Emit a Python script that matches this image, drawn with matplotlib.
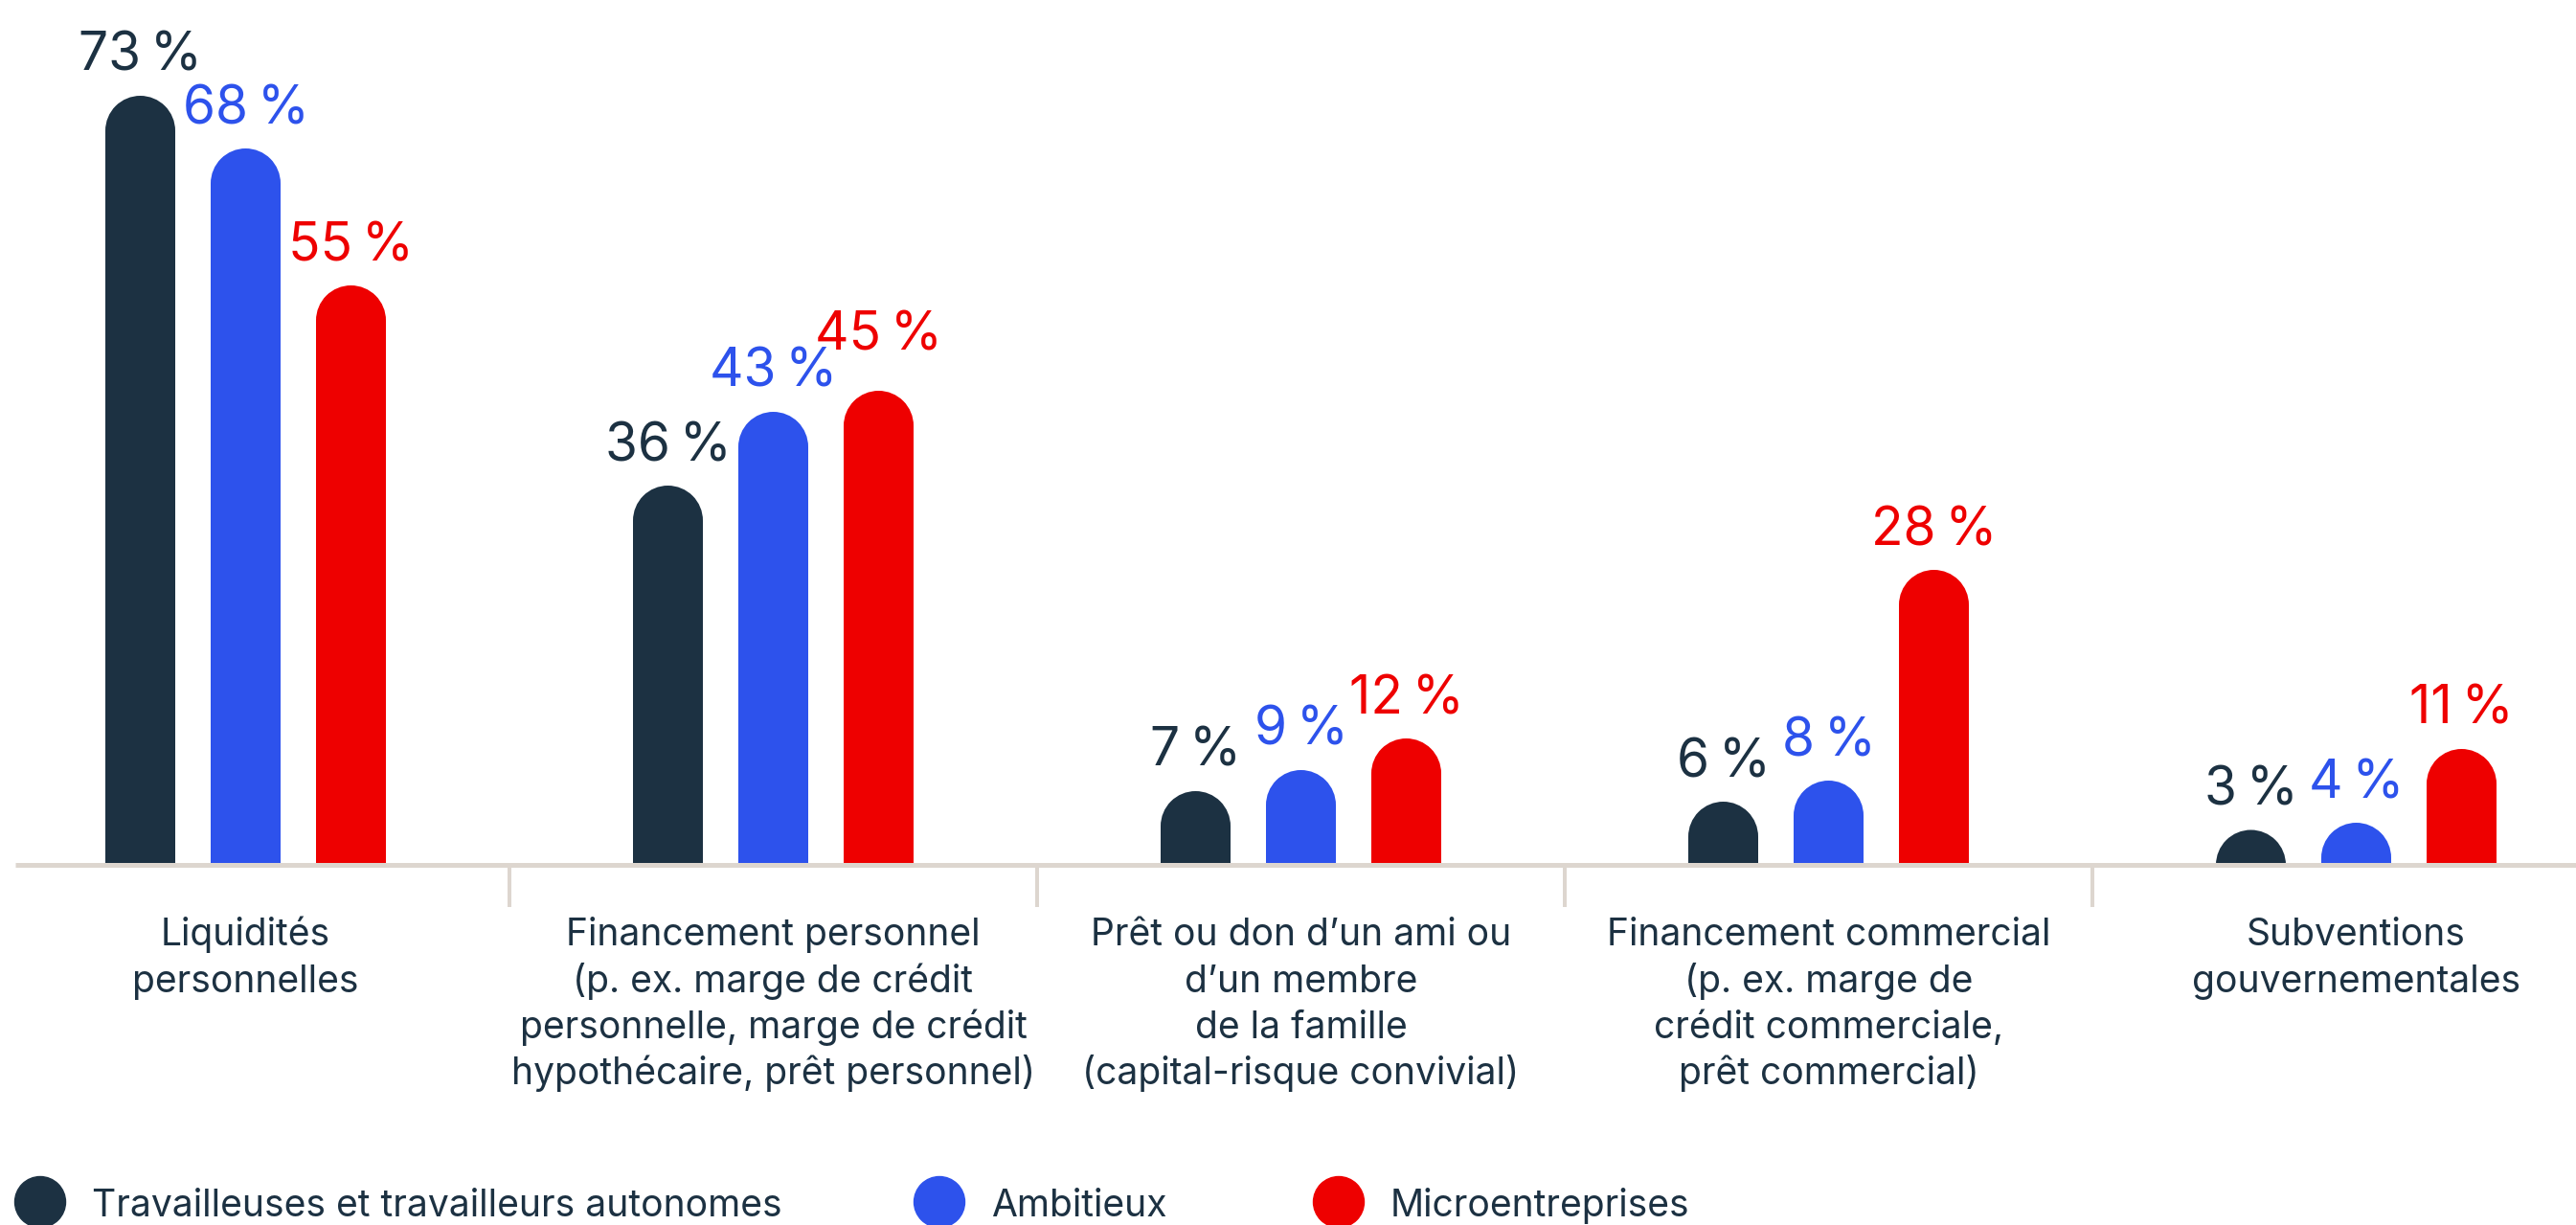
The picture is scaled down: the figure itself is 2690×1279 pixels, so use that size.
import numpy as np
import matplotlib
matplotlib.use("Agg")
from matplotlib import pyplot as plt
from matplotlib.patches import Ellipse, Circle, Rectangle

categories = [
    ["Liquidités", "personnelles"],
    ["Financement personnel", "(p. ex. marge de crédit", "personnelle, marge de crédit", "hypothécaire, prêt personnel)"],
    ["Prêt ou don d\u2019un ami ou", "d\u2019un membre", "de la famille", "(capital-risque convivial)"],
    ["Financement commercial", "(p. ex. marge de", "crédit commerciale,", "prêt commercial)"],
    ["Subventions", "gouvernementales"],
]
series_names = ["Travailleuses et travailleurs autonomes", "Ambitieux", "Microentreprises"]
autonomes = [73, 36, 7, 6, 3]
ambitieux = [68, 43, 9, 8, 4]
micro = [55, 45, 12, 28, 11]
colors = ["#1c3142", "#2d52ec", "#ee0000"]
axis_color = "#ddd6cf"

W, H, DPI = 2690, 1279, 100
FONT = "Inter"

def pt(px):
    return px * 72 / DPI

fig = plt.figure(figsize=(W / DPI, H / DPI), dpi=DPI)
ax = fig.add_axes([0, 0, 1, 1])
ax.axis("off")

# layout in pixels: group spacing 551, first group centre at 256.5, baseline 903 from top, 11 px per %
px_x, px_y = 551.0, 11.0
xmin = -256.5 / px_x
ymin = -(H - 903) / px_y
ax.set_xlim(xmin, xmin + W / px_x)
ax.set_ylim(ymin, ymin + H / px_y)

bar_w = 73 / px_x
offset = 110 / px_x
r_y = (bar_w * px_x / 2) / px_y

# the 45 % label sits a bit higher so it doesn't run into 43 %
label_lift = {(1, 2): 17}

x = np.arange(len(categories))
for k, vals in enumerate([autonomes, ambitieux, micro]):
    xs = x + (k - 1) * offset
    vals = np.array(vals, dtype=float)
    tops = np.maximum(vals, r_y)  # tiny values still show a full dome
    ax.bar(xs, tops - r_y, width=bar_w, color=colors[k], linewidth=0, zorder=2)
    for i, (xi, v, t) in enumerate(zip(xs, vals, tops)):
        cap = Ellipse((xi, t - r_y), bar_w, 2 * r_y, color=colors[k], linewidth=0, zorder=2)
        ax.add_patch(cap)
        clip = Rectangle((xi - bar_w, 0), 2 * bar_w, 200, transform=ax.transData)
        cap.set_clip_path(clip)
        ax.annotate(f"{int(v)}\u202f%", (xi, t), xytext=(0, pt(26 + label_lift.get((i, k), 0))),
                    textcoords="offset points", ha="center", va="baseline",
                    fontsize=pt(55), color=colors[k], family=FONT)

# baseline and separators
ax.plot([xmin + 16 / px_x, xmin + W / px_x], [0, 0], color=axis_color, lw=pt(5), zorder=3,
        solid_capstyle="butt")
for s in x[:-1] + 0.5:
    ax.plot([s, s], [0, -44 / px_y], color=axis_color, lw=pt(4), zorder=1, solid_capstyle="butt")

# category labels, one line at a time
for i, lines in enumerate(categories):
    for j, line in enumerate(lines):
        ax.annotate(line, (i, 0), xytext=(0, -pt(84 + 48.5 * j)), textcoords="offset points",
                    ha="center", va="baseline", fontsize=pt(39), color=colors[0], family=FONT)

# legend
leg_x = [42, 981, 1398]
for cx, name, c in zip(leg_x, series_names, colors):
    fig.patches.append(Circle((cx / DPI, (H - 1255) / DPI), 26.5 / DPI, color=c,
                              transform=fig.dpi_scale_trans, figure=fig))
    fig.text((cx + 54) / W, 9 / H, name, ha="left", va="baseline", fontsize=pt(39),
             color=colors[0], family=FONT)

fig.savefig("out.png", dpi=DPI, facecolor="white")
